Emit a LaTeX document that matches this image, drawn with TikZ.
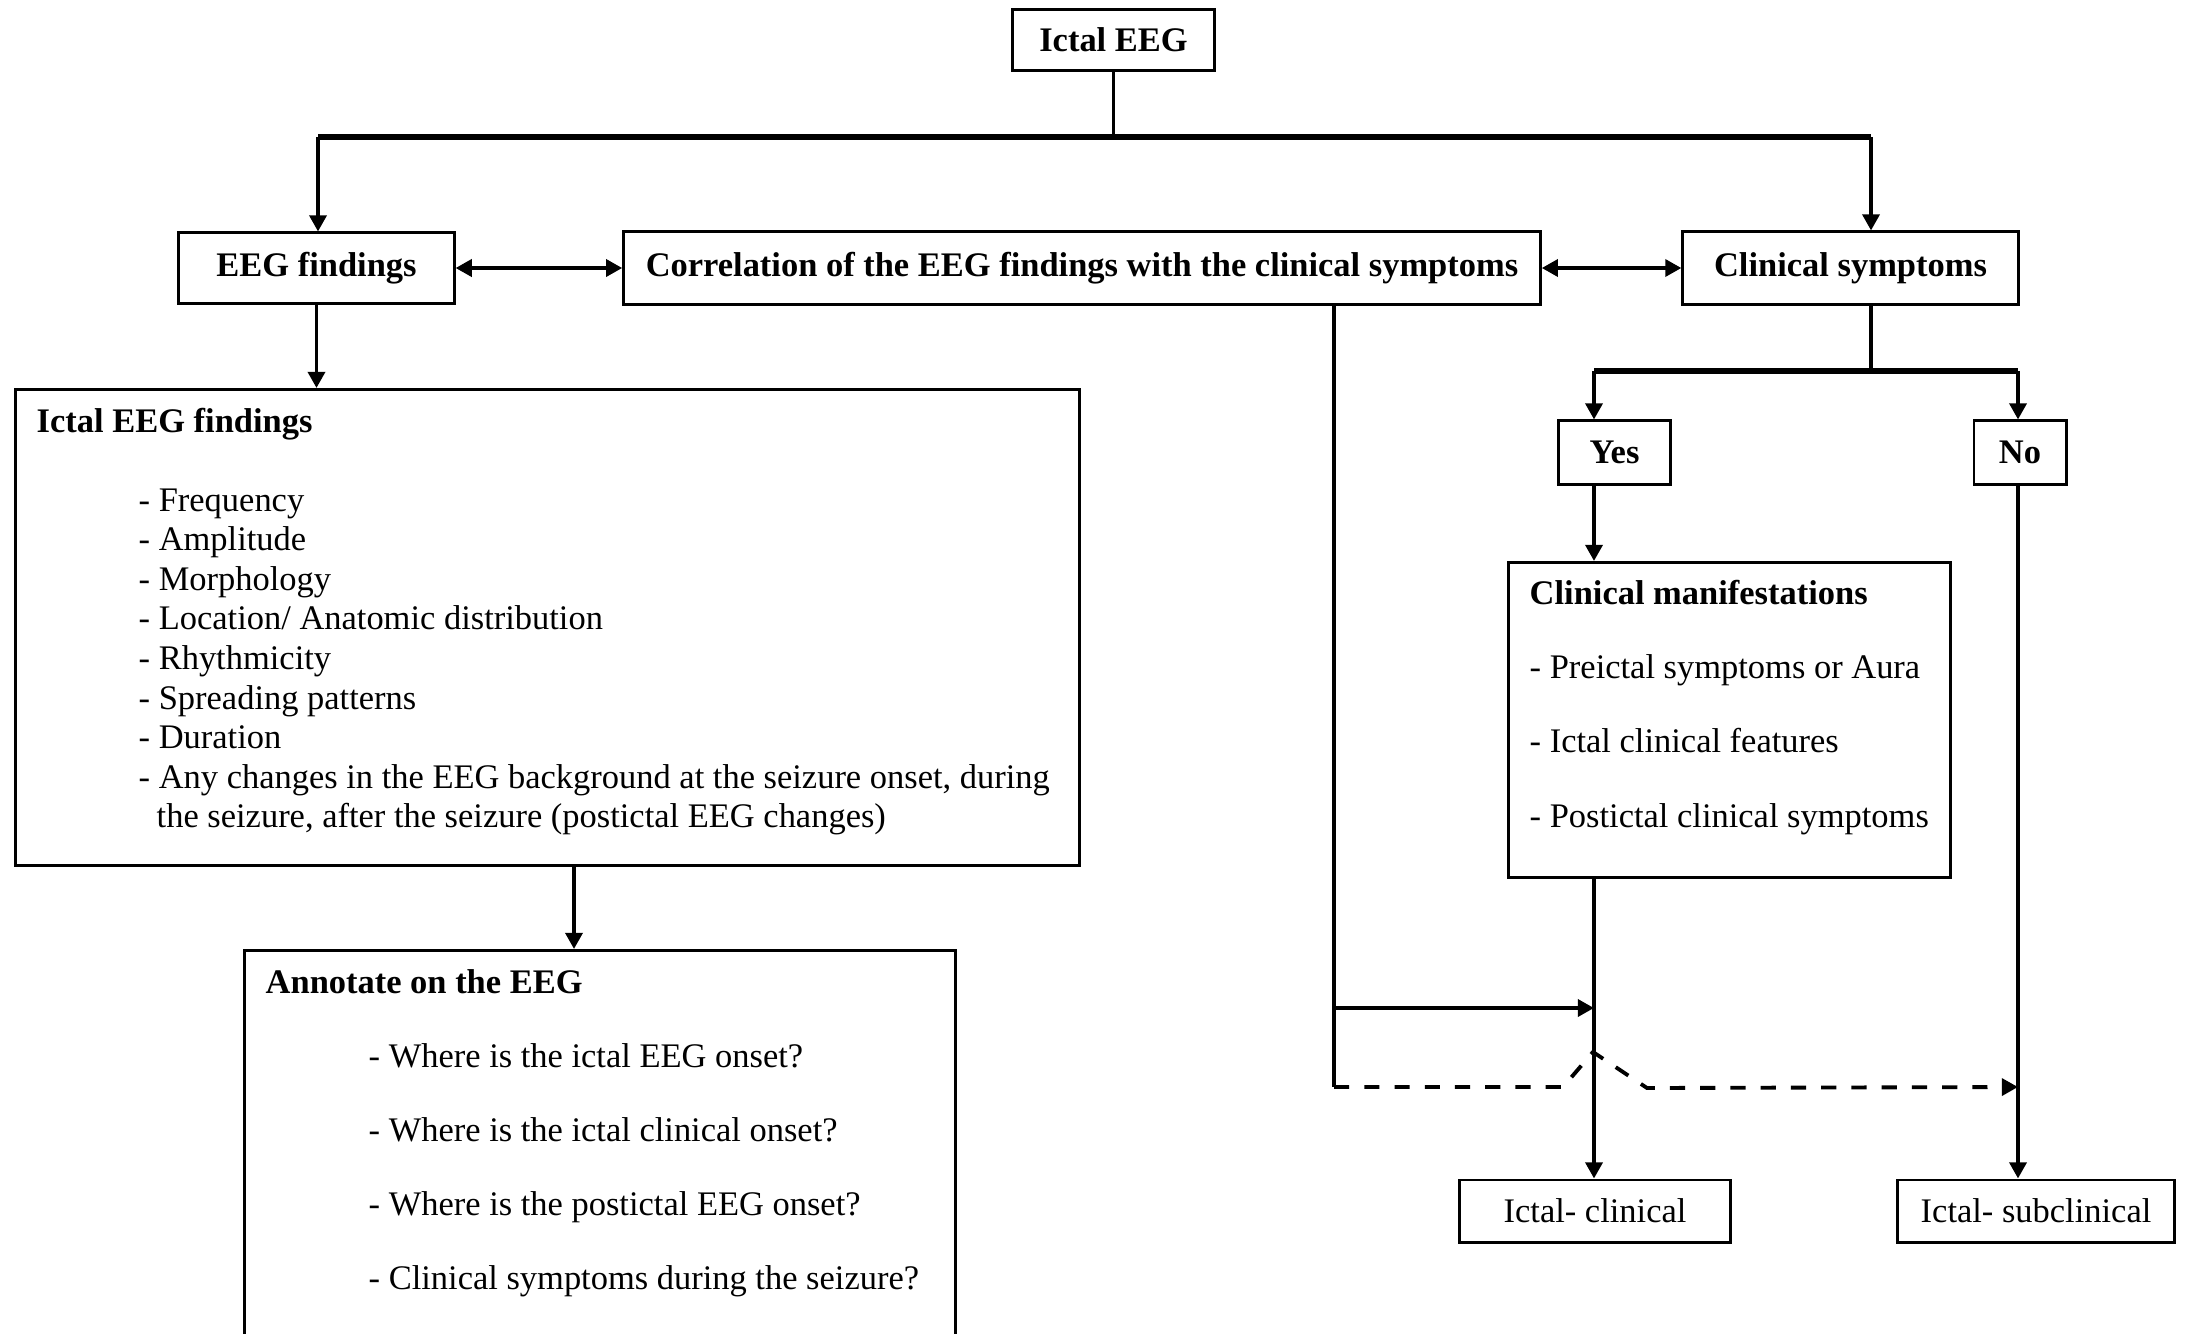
\documentclass[tikz,border=0pt]{standalone}
\usepackage{fontspec}
\setmainfont{Liberation Serif}
\usepackage{tikz}
\usetikzlibrary{calc}
\usetikzlibrary{arrows.meta}
\usetikzlibrary{positioning}
\tikzset{
  flowbox/.style   ={draw=black, line width=0.85pt, inner sep=0pt, font=\fontsize{9.8pt}{11.3pt}\selectfont},
  headbox/.style   ={flowbox, font=\fontsize{9.8pt}{11.3pt}\selectfont\bfseries},
  itemtext/.style  ={anchor=base west, inner sep=0pt, font=\fontsize{9.8pt}{11.3pt}\selectfont},
  headtext/.style  ={itemtext, font=\fontsize{9.8pt}{11.3pt}\selectfont\bfseries},
  link/.style      ={line width=1.1pt},
  bus/.style       ={line width=1.5pt},
  linkarrow/.style ={link, -{Triangle[length=4.6pt,width=4.8pt]}},
  bothways/.style  ={link, {Triangle[length=4.6pt,width=4.8pt]}-{Triangle[length=4.6pt,width=4.8pt]}},
  noclin/.style    ={linkarrow, dash pattern=on 4.3pt off 4.3pt},
}

\begin{document}
\begin{tikzpicture}[x=0.01cm, y=-0.01cm]
            \useasboundingbox[fill=white] (0,0) rectangle (2188,1333);

            % top row
            \node[headbox, minimum width=2.01cm, minimum height=0.60cm] (ictaleeg) at (1113.5,  40.0) {Ictal EEG};
            \node[headbox, minimum width=2.75cm, minimum height=0.70cm] (eegfind)  at ( 316.5, 268.0) {EEG findings};
            \node[headbox, minimum width=9.16cm, minimum height=0.72cm] (correl)   at (1082.0, 268.0) {Correlation of the EEG findings with the clinical symptoms};
            \node[headbox, minimum width=3.35cm, minimum height=0.72cm] (clinsym)  at (1850.5, 268.0) {Clinical symptoms};

            % left column
            \node[flowbox, anchor=north west, minimum width=10.63cm, minimum height=4.76cm] (findbox) at (  14, 388) {};
            \node[headtext] (findtitle) at ( 36, 432.0) {Ictal EEG findings};
            \node[itemtext] (find1)     at (138, 511.0) {- Frequency};
            \node[itemtext] (find2)     at (138, 550.6) {- Amplitude};
            \node[itemtext] (find3)     at (138, 590.2) {- Morphology};
            \node[itemtext] (find4)     at (138, 629.8) {- Location/ Anatomic distribution};
            \node[itemtext] (find5)     at (138, 669.4) {- Rhythmicity};
            \node[itemtext] (find6)     at (138, 709.0) {- Spreading patterns};
            \node[itemtext] (find7)     at (138, 748.6) {- Duration};
            \node[itemtext] (find8)     at (138, 788.2) {- Any changes in the EEG background at the seizure onset, during};
            \node[itemtext] (find8b)    at (156, 827.8) {the seizure, after the seizure (postictal EEG changes)};

            \node[flowbox, anchor=north west, minimum width=7.11cm, minimum height=5.00cm] (annot) at ( 243, 949) {};
            \node[headtext] (annottitle) at (265,  993) {Annotate on the EEG};
            \node[itemtext] (annot1)     at (368, 1067) {- Where is the ictal EEG onset?};
            \node[itemtext] (annot2)     at (368, 1141) {- Where is the ictal clinical onset?};
            \node[itemtext] (annot3)     at (368, 1215) {- Where is the postictal EEG onset?};
            \node[itemtext] (annot4)     at (368, 1289) {- Clinical symptoms during the seizure?};

            % right column
            \node[headbox, minimum width=1.11cm, minimum height=0.63cm] (yes) at (1614.5, 452.5) {Yes\hspace{0.14cm}};
            \node[headbox, minimum width=0.92cm, minimum height=0.63cm] (no)  at (2020.0, 452.5) {No};
            \node[flowbox, anchor=north west, minimum width=4.42cm, minimum height=3.15cm] (manif) at (1507, 561) {};
            \node[headtext] (maniftitle) at (1529, 604) {Clinical manifestations};
            \node[itemtext] (manif1)     at (1529, 678) {- Preictal symptoms or Aura};
            \node[itemtext] (manif2)     at (1529, 752) {- Ictal clinical features};
            \node[itemtext] (manif3)     at (1529, 827) {- Postictal clinical symptoms};
            \node[flowbox, minimum width=2.70cm, minimum height=0.62cm] (ictclin) at (1595, 1211) {Ictal- clinical};
            \node[flowbox, minimum width=2.76cm, minimum height=0.62cm] (ictsub)  at (2036, 1211) {Ictal- subclinical};

            % helper points
            \coordinate (busL)     at ( 318,  137);
            \coordinate (busR)     at (1871,  137);
            \coordinate (findout)  at ( 574,  864);
            \coordinate (yesdrop)  at (1594,  371);
            \coordinate (nodrop)   at (2018,  371);
            \coordinate (corrdrop) at (1334,  304);
            \coordinate (corrtap)  at (1334, 1087);
            \coordinate (solidend) at (1594, 1008);

            % connectors
            \draw[link]      (ictaleeg.south) -- (ictaleeg.south |- busL);
            \draw[bus]       (busL) -- (busR);
            \draw[linkarrow] (busL) -- (busL |- eegfind.north);
            \draw[linkarrow] (busR) -- (busR |- clinsym.north);
            \draw[bothways]  (eegfind.east) -- (correl.west);
            \draw[bothways]  (correl.east) -- (clinsym.west);
            \draw[linkarrow] (eegfind.south) -- (eegfind.south |- findbox.north);
            \draw[linkarrow] (findout) -- (findout |- annot.north);

            \draw[link]      (busR |- clinsym.south) -- (busR |- yesdrop);
            \draw[bus]       (yesdrop) -- (nodrop);
            \draw[linkarrow] (yesdrop) -- (yesdrop |- yes.north);
            \draw[linkarrow] (nodrop) -- (nodrop |- no.north);
            \draw[linkarrow] (yesdrop |- yes.south) -- (yesdrop |- manif.north);
            \draw[linkarrow] (yesdrop |- manif.south) -- (yesdrop |- ictclin.north);
            \draw[linkarrow] (nodrop |- no.south) -- (nodrop |- ictsub.north);

            \draw[link]      (corrdrop) -- (corrtap);
            \draw[linkarrow] (corrdrop |- solidend) -- (solidend);
            \draw[noclin]    (corrtap) -- ++(229,0) -- ++(30,-35) -- ++(54,36) -- (nodrop |- corrtap);
        \end{tikzpicture}
\end{document}
